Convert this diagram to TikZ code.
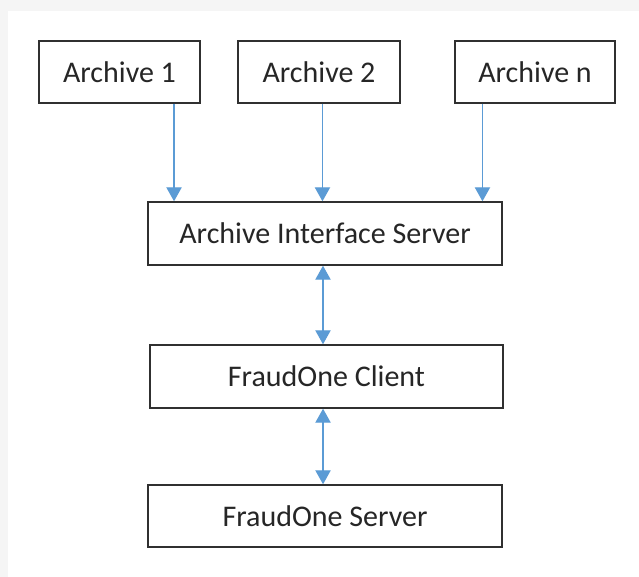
\documentclass[tikz,border=0pt]{standalone}
\usepackage{fontspec}
\setmainfont{Carlito}
\usetikzlibrary{arrows.meta}
\definecolor{linkblue}{HTML}{5B9BD5}
\definecolor{boxline}{HTML}{303030}
\definecolor{textgray}{HTML}{262626}
\definecolor{pagegray}{HTML}{F5F5F5}
\tikzset{
    box/.style={draw=boxline, line width=1.1pt, fill=white, inner sep=0pt, minimum height=46.5pt, text=textgray, font=\fontsize{22.5}{27}\selectfont},
    link/.style={draw=linkblue, line width=0.9pt, -{Triangle[width=11.5pt,length=10.5pt]}},
    twolink/.style={draw=linkblue, line width=0.9pt, {Triangle[width=11.5pt,length=10.5pt]}-{Triangle[width=11.5pt,length=10.5pt]}}
}

\begin{document}
\begin{tikzpicture}[x=0.75pt,y=0.75pt,yscale=-1,xscale=1]
        %Page
        \fill[pagegray] (0,0) rectangle (639,577);
        \fill[white] (8,11) rectangle (639,577);
        \useasboundingbox (0,0) rectangle (639,577);
        %Shape: Rectangle
        \node[box, minimum width=120.75pt] (arch1) at (119.5,72) {Archive 1};
        \node[box, minimum width=121.5pt] (arch2) at (319,72) {Archive 2};
        \node[box, minimum width=120pt] (archn) at (535,72) {Archive n};
        \node[box, minimum width=265.5pt, minimum height=47.25pt] (ais) at (325,233.5) {Archive Interface Server};
        \node[box, minimum width=264.75pt, minimum height=47.25pt] (client) at (326.5,376.5) {FraudOne Client};
        \node[box, minimum width=265.5pt] (server) at (325,516) {FraudOne Server};
        %Straight Lines
        \draw[link] ([xshift=40.9pt]arch1.south) -- ([xshift=40.9pt]arch1.south |- ais.north);
        \draw[link] ([xshift=2.6pt]arch2.south) -- ([xshift=2.6pt]arch2.south |- ais.north);
        \draw[link] ([xshift=-39.4pt]archn.south) -- ([xshift=-39.4pt]archn.south |- ais.north);
        \draw[twolink] ([xshift=-1.5pt]ais.south) -- ([xshift=-1.5pt]ais.south |- client.north);
        \draw[twolink] ([xshift=-2.6pt]client.south) -- ([xshift=-2.6pt]client.south |- server.north);
\end{tikzpicture}
\end{document}
